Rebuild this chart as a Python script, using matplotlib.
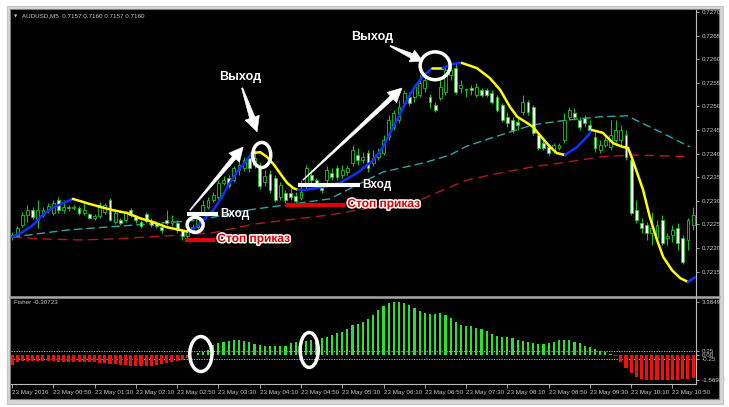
import numpy as np
import matplotlib.pyplot as plt
import matplotlib.patheffects as pe
from matplotlib.patches import Ellipse, Rectangle, Polygon
from matplotlib.lines import Line2D
from matplotlib.transforms import IdentityTransform

W, H = 729, 407

# AUDUSD M5 candles, prices in points (1 point = 0.00001)
open_pts = [72223, 72227, 72249, 72270, 72280, 72259, 72270, 72280, 72274, 72302,
            72280, 72287, 72285, 72285, 72274, 72272, 72263, 72268, 72276, 72302,
            72255, 72259, 72259, 72280, 72266, 72255, 72272, 72257, 72251, 72244,
            72259, 72253, 72253, 72236, 72225, 72234, 72244, 72276, 72287, 72302,
            72308, 72338, 72348, 72344, 72365, 72369, 72391, 72376, 72369, 72340,
            72357, 72348, 72308, 72316, 72316, 72310, 72306, 72331, 72355, 72344,
            72331, 72344, 72359, 72369, 72355, 72361, 72380, 72397, 72386, 72401,
            72380, 72393, 72401, 72435, 72456, 72471, 72507, 72520, 72520, 72524,
            72539, 72520, 72503, 72518, 72530, 72567, 72581, 72539, 72535, 72539,
            72524, 72535, 72535, 72528, 72520, 72503, 72478, 72471, 72467, 72488,
            72509, 72499, 72439, 72422, 72414, 72408, 72412, 72429, 72478, 72486,
            72471, 72475, 72461, 72435, 72408, 72418, 72414, 72429, 72429, 72439,
            72386, 72280, 72253, 72249, 72232, 72221, 72259, 72221, 72227, 72242,
            72221, 72217, 72249]
close_pts = [72227, 72242, 72270, 72280, 72266, 72280, 72280, 72289, 72295, 72280,
             72287, 72285, 72287, 72274, 72280, 72263, 72268, 72291, 72291, 72259,
             72274, 72253, 72274, 72270, 72259, 72246, 72257, 72249, 72246, 72238,
             72253, 72257, 72238, 72225, 72234, 72244, 72263, 72291, 72302, 72312,
             72338, 72344, 72331, 72369, 72376, 72386, 72369, 72391, 72331, 72352,
             72323, 72302, 72333, 72302, 72308, 72300, 72319, 72369, 72344, 72331,
             72323, 72365, 72350, 72350, 72365, 72369, 72408, 72386, 72393, 72369,
             72391, 72401, 72429, 72471, 72486, 72499, 72528, 72507, 72541, 72550,
             72556, 72509, 72492, 72541, 72577, 72577, 72530, 72545, 72536, 72535,
             72541, 72524, 72524, 72509, 72492, 72471, 72465, 72450, 72461, 72509,
             72488, 72444, 72412, 72412, 72401, 72418, 72418, 72471, 72492, 72478,
             72456, 72465, 72450, 72412, 72418, 72429, 72439, 72450, 72450, 72393,
             72274, 72259, 72242, 72232, 72242, 72249, 72210, 72225, 72238, 72210,
             72170, 72259, 72270]
high_pts = [72234, 72246, 72276, 72291, 72287, 72302, 72287, 72295, 72302, 72308,
            72302, 72291, 72291, 72289, 72295, 72274, 72272, 72297, 72295, 72306,
            72278, 72263, 72278, 72285, 72270, 72259, 72276, 72263, 72257, 72251,
            72280, 72270, 72259, 72240, 72240, 72251, 72272, 72302, 72308, 72319,
            72344, 72352, 72355, 72374, 72386, 72393, 72397, 72408, 72382, 72365,
            72365, 72355, 72340, 72323, 72327, 72319, 72344, 72376, 72365, 72348,
            72338, 72374, 72369, 72376, 72376, 72376, 72418, 72412, 72403, 72408,
            72408, 72412, 72439, 72482, 72492, 72514, 72535, 72530, 72545, 72567,
            72573, 72526, 72509, 72556, 72583, 72594, 72594, 72556, 72539, 72545,
            72550, 72539, 72539, 72535, 72524, 72507, 72488, 72478, 72475, 72524,
            72514, 72503, 72444, 72429, 72418, 72422, 72422, 72486, 72499, 72497,
            72478, 72482, 72471, 72450, 72429, 72435, 72471, 72471, 72461, 72450,
            72393, 72302, 72263, 72255, 72276, 72259, 72270, 72232, 72249, 72253,
            72227, 72263, 72287]
low_pts = [72217, 72223, 72244, 72255, 72261, 72242, 72266, 72274, 72270, 72274,
           72274, 72278, 72280, 72270, 72270, 72261, 72259, 72263, 72272, 72257,
           72251, 72249, 72255, 72266, 72253, 72242, 72253, 72244, 72242, 72232,
           72249, 72246, 72232, 72217, 72221, 72230, 72240, 72272, 72283, 72297,
           72304, 72333, 72327, 72340, 72355, 72363, 72361, 72369, 72325, 72331,
           72316, 72297, 72302, 72295, 72302, 72295, 72302, 72323, 72338, 72325,
           72316, 72333, 72344, 72344, 72348, 72355, 72374, 72376, 72380, 72361,
           72374, 72386, 72397, 72429, 72450, 72465, 72499, 72501, 72509, 72520,
           72530, 72497, 72488, 72514, 72524, 72556, 72526, 72528, 72520, 72524,
           72520, 72520, 72520, 72505, 72488, 72467, 72456, 72444, 72450, 72482,
           72482, 72439, 72408, 72408, 72397, 72401, 72408, 72422, 72471, 72471,
           72450, 72456, 72444, 72403, 72401, 72414, 72408, 72425, 72418, 72386,
           72270, 72253, 72232, 72217, 72206, 72217, 72206, 72206, 72213, 72196,
           72166, 72196, 72238]

# trend line (yellow / blue), bar index -> points, direction per segment
hma_bar = [0, 2.1, 4.1, 6.0, 7.9, 9.9, 11.8, 14.5, 17.1, 19.6, 22.3, 24.8, 27.3,
           30.0, 34.3, 35.9, 37.4, 39.0, 40.7, 42.2, 43.6, 44.8, 46.5, 48.1, 49.4,
           50.8, 51.9, 53.3, 54.5, 55.4, 56.8, 60.3, 63.6, 66.9, 70.0, 71.9, 73.3,
           74.6, 75.8, 77.1, 78.3, 79.5, 81.4, 83.5, 85.3, 87.2, 90.1, 92.6, 94.6,
           96.5, 97.9, 99.8, 101.0, 102.3, 104.3, 105.6, 107.2, 109.5, 111.4, 112.4,
           114.5, 116.5, 118.4, 119.4, 120.3, 122.3, 123.6, 125.0, 126.2, 127.9,
           129.5, 131.0, 132.4]
hma_pts = [72223, 72234, 72249, 72270, 72285, 72295, 72304, 72295, 72287, 72280,
           72274, 72263, 72255, 72244, 72234, 72246, 72263, 72280, 72308, 72338,
           72361, 72376, 72401, 72403, 72393, 72376, 72359, 72338, 72327, 72323,
           72323, 72329, 72338, 72359, 72386, 72414, 72444, 72471, 72497, 72524,
           72545, 72562, 72581, 72581, 72590, 72592, 72581, 72560, 72535, 72499,
           72478, 72465, 72456, 72439, 72414, 72401, 72397, 72414, 72435, 72450,
           72444, 72422, 72414, 72412, 72386, 72323, 72266, 72217, 72181, 72153,
           72136, 72128, 72138]
hma_dir = ("UUUUUU" "DDDDDDDD" "UUUUUUUU" "DDDDDDD" "UUUUUUUUUUUUU" "D" "UU"
           "DDDDDDDDDDD" "UUU" "DDDDDDDDDDDD" "U")

# moving averages
ma_fast_bar = [0, 10.7, 26.7, 36.4, 45.5, 61.6, 71.9, 79.7, 84.9, 88.2, 94.6,
               101.0, 107.6, 114.0, 119.2, 125.6, 131.4]
ma_fast_pts = [72223, 72238, 72251, 72259, 72280, 72304, 72361, 72380, 72397,
               72416, 72439, 72461, 72471, 72478, 72480, 72446, 72414]
ma_slow_bar = [0, 6.4, 12.8, 19.4, 25.8, 32.2, 38.8, 47.1, 61.6, 70.7, 79.1, 84.9,
               88.2, 94.6, 101.0, 107.6, 114.0, 120.3, 126.9, 131.4]
ma_slow_pts = [72223, 72219, 72217, 72219, 72223, 72227, 72232, 72251, 72270, 72287,
               72302, 72329, 72344, 72359, 72372, 72382, 72393, 72397, 72395, 72393]

# Fisher histogram
fisher = [-0.62, -0.40, -0.38, -0.38, -0.36, -0.36, -0.36, -0.38, -0.38, -0.40,
          -0.40, -0.40, -0.42, -0.42, -0.42, -0.45, -0.45, -0.50, -0.52, -0.55,
          -0.58, -0.60, -0.62, -0.65, -0.68, -0.68, -0.65, -0.68, -0.62, -0.55,
          -0.48, -0.42, -0.35, -0.28, -0.20, 0.05, 0.12, 0.23, 0.34, 0.65,
          0.76, 0.86, 0.93, 0.97, 0.97, 0.93, 0.86, 0.72, 0.66, 0.59,
          0.59, 0.59, 0.59, 0.62, 0.76, 0.86, 0.90, 0.92, 0.97, 1.00,
          1.08, 1.19, 1.30, 1.40, 1.50, 1.70, 1.93, 2.00, 2.13, 2.29,
          2.56, 2.88, 3.15, 3.30, 3.38, 3.38, 3.30, 3.20, 2.98, 2.83,
          2.70, 2.62, 2.62, 2.66, 2.56, 2.35, 2.13, 1.93, 1.89, 1.85,
          1.74, 1.64, 1.53, 1.38, 1.25, 1.17, 1.15, 1.12, 1.00, 0.90,
          0.83, 0.75, 0.69, 0.69, 0.75, 0.83, 0.94, 1.00, 0.94, 0.85,
          0.78, 0.60, 0.51, 0.38, 0.30, 0.23, 0.08, -0.05, -0.40, -0.83,
          -1.15, -1.40, -1.52, -1.57, -1.57, -1.55, -1.57, -1.57, -1.55, -1.55,
          -1.52, -1.50, -1.47]
fisher_ticks = [3.38499, 0.25, 0.0, -0.25, -1.56927]
fisher_tick_labels = ['3.38499', '0.25', '0.00', '-0.25', '-1.56927']

price_ticks = [0.7215, 0.7220, 0.7225, 0.7230, 0.7235, 0.7240, 0.7245, 0.7250,
               0.7255, 0.7260, 0.7265, 0.7270]
label_bars = [0, 8, 16, 24, 32, 40, 48, 56, 64, 72, 80, 88, 96, 104, 112, 120, 128]
time_labels = ['23 May 2016', '23 May 00:50', '23 May 01:30', '23 May 02:10',
               '23 May 02:50', '23 May 03:30', '23 May 04:10', '23 May 04:50',
               '23 May 05:30', '23 May 06:10', '23 May 06:50', '23 May 07:30',
               '23 May 08:10', '23 May 08:50', '23 May 09:30', '23 May 10:10',
               '23 May 10:50']

o = np.array(open_pts) / 1e5
c = np.array(close_pts) / 1e5
hi = np.array(high_pts) / 1e5
lo = np.array(low_pts) / 1e5
f = np.array(fisher)
x = np.arange(len(o))

GREEN = '#22c322'
GRAY = '#c8c8c8'
small = dict(fontsize=4.5, color=GRAY, family='Liberation Sans')


def box(x0, y0, x1, y1):
    return [x0 / W, 1 - y1 / H, (x1 - x0) / W, (y1 - y0) / H]


def tapered_arrow(ax, tail, tip, w0, w1, head_w=14, head_len=14):
    # white arrow whose shaft widens from tail to head, sizes in pixels
    p0 = ax.transData.transform(tail)
    p1 = ax.transData.transform(tip)
    u = (p1 - p0) / np.hypot(*(p1 - p0))
    n = np.array([-u[1], u[0]])
    base = p1 - u * head_len
    pts = [p0 + n * w0 / 2, base + n * w1 / 2, base + n * head_w / 2, p1,
           base - n * head_w / 2, base - n * w1 / 2, p0 - n * w0 / 2]
    ax.add_patch(Polygon(pts, closed=True, transform=IdentityTransform(),
                         fc='white', ec='white', lw=0.4, zorder=8))


fig = plt.figure(figsize=(W / 100, H / 100), dpi=100)
fig.patch.set_facecolor('white')
fig.add_artist(Rectangle((7 / W, 1 - 404 / H), 716 / W, 398 / H, transform=fig.transFigure,
                         fc='#d6d6d6', ec='#c4c4c4', lw=0.8, zorder=-2))
fig.add_artist(Rectangle((10 / W, 1 - 399 / H), 709 / W, 390 / H, transform=fig.transFigure,
                         fc='black', ec='#808080', lw=0.8, zorder=-1))

# ---- price panel ----
ax = fig.add_axes(box(11, 10, 696, 296))
ax.set_facecolor('black')
ax.set_xlim(-0.19, 132.56)
ax.set_ylim(0.720982, 0.727042)
for s in ['left', 'top', 'bottom']:
    ax.spines[s].set_visible(False)
ax.spines['right'].set_color('#bcbcbc')
ax.spines['right'].set_linewidth(0.8)
ax.yaxis.tick_right()
ax.set_yticks(price_ticks)
ax.set_yticklabels(['%.4f' % p for p in price_ticks], **small)
ax.tick_params(axis='y', length=2, width=0.6, color='#bcbcbc', pad=2)
ax.set_xticks([])

ax.plot(ma_fast_bar, np.array(ma_fast_pts) / 1e5, color='#2aa6a8', lw=1.0,
        dashes=(6, 3), zorder=2)
ax.plot(ma_slow_bar, np.array(ma_slow_pts) / 1e5, color='#b01a1a', lw=1.0,
        dashes=(7, 4), zorder=2)

ax.vlines(x, lo, hi, color=GREEN, lw=0.7, zorder=3)
up = c >= o
body = np.maximum(np.abs(c - o), 0.000008)
ax.bar(x, body, bottom=np.minimum(o, c), width=0.55,
       color=np.where(up, 'black', 'white'), edgecolor=GREEN, lw=0.6, zorder=4)

hb = np.array(hma_bar)
hp = np.array(hma_pts) / 1e5
start = 0
for k in range(1, len(hma_dir) + 1):
    if k == len(hma_dir) or hma_dir[k] != hma_dir[start]:
        col = '#1030ff' if hma_dir[start] == 'U' else '#ffff00'
        ax.plot(hb[start:k + 1], hp[start:k + 1], color=col, lw=1.8,
                solid_capstyle='round', zorder=5)
        start = k

# annotations
bold = dict(family='Liberation Sans', fontweight='bold')
ax.add_patch(Ellipse((35.5, 0.72249), 3.1, 0.00032, fill=False, ec='white', lw=2.5, zorder=7))
ax.add_patch(Ellipse((48.4, 0.72397), 3.5, 0.00053, fill=False, ec='white', lw=2.5, zorder=7))
ax.add_patch(Ellipse((82.0, 0.72586), 5.8, 0.00059, fill=False, ec='white', lw=2.5, zorder=7))

tapered_arrow(ax, (34.5, 0.72280), (44.8, 0.72414), 0.8, 4.5)
tapered_arrow(ax, (56.4, 0.72344), (75.6, 0.72539), 0.8, 4.5)
tapered_arrow(ax, (44.6, 0.72539), (47.5, 0.72446), 1.2, 5.5, head_w=15, head_len=15)
tapered_arrow(ax, (73.3, 0.72628), (79.6, 0.72596), 1.2, 5.0, head_w=13, head_len=12)

ax.text(44.2, 0.72562, 'Выход', color='white', fontsize=9, ha='center', va='center',
        zorder=9, **bold)
ax.text(69.8, 0.72647, 'Выход', color='white', fontsize=9, ha='center', va='center',
        zorder=9, **bold)

ax.hlines(0.72272, 33.9, 39.9, color='white', lw=3, zorder=8)
ax.text(40.4, 0.72272, 'Вход', color='white', fontsize=8.5, va='center', zorder=9, **bold)
ax.hlines(0.72333, 55.4, 67.4, color='white', lw=3, zorder=8)
ax.text(67.8, 0.72333, 'Вход', color='white', fontsize=8.5, va='center', zorder=9, **bold)

stroke = [pe.withStroke(linewidth=2.2, foreground='white')]
ax.hlines(0.72217, 33.5, 39.3, color='#e00000', lw=3, zorder=8)
ax.text(39.8, 0.72219, 'Стоп приказ', color='#e00000', fontsize=8.6, va='center',
        path_effects=stroke, zorder=9, **bold)
ax.hlines(0.72291, 52.9, 64.5, color='#e00000', lw=3, zorder=8)
ax.text(65.0, 0.72293, 'Стоп приказ', color='#e00000', fontsize=8.6, va='center',
        path_effects=stroke, zorder=9, **bold)

# ---- Fisher panel ----
ax2 = fig.add_axes(box(11, 298, 696, 384))
ax2.set_facecolor('black')
ax2.set_xlim(-0.19, 132.56)
ax2.set_ylim(-1.823, 3.639)
for s in ['left', 'top']:
    ax2.spines[s].set_visible(False)
for s in ['right', 'bottom']:
    ax2.spines[s].set_color('#bcbcbc')
    ax2.spines[s].set_linewidth(0.8)
ax2.yaxis.tick_right()
ax2.set_yticks(fisher_ticks)
ax2.set_yticklabels(fisher_tick_labels, **small)
ax2.tick_params(axis='y', length=2, width=0.6, color='#bcbcbc', pad=2)
ax2.set_xticks(label_bars)
ax2.set_xticklabels(time_labels, ha='left', **small)
ax2.tick_params(axis='x', length=3, width=0.6, color='#bcbcbc', pad=1.5)

ax2.axhline(0.25, color='#cfcfcf', lw=0.6, ls=(0, (1.5, 1.5)), zorder=1)
ax2.axhline(-0.25, color='#cfcfcf', lw=0.6, ls=(0, (1.5, 1.5)), zorder=1)
ax2.bar(x, f, width=np.where(f >= 0, 0.42, 0.6),
        color=np.where(f >= 0, '#2ee02e', '#f01010'), zorder=2)
ax2.add_patch(Ellipse((36.6, 0.08), 4.3, 2.22, fill=False, ec='white', lw=2.5, zorder=5))
ax2.add_patch(Ellipse((57.6, 0.34), 3.5, 2.22, fill=False, ec='white', lw=2.5, zorder=5))

# panel separator and captions
fig.add_artist(Line2D([10 / W, 719 / W], [1 - 297 / H] * 2, transform=fig.transFigure,
                      color='#a8a8a8', lw=1.8))
fig.text(14 / W, 1 - 16 / H, '\u25bc', fontsize=3, color=GRAY, va='center')
fig.text(22 / W, 1 - 16 / H, 'AUDUSD,M5  0.7157 0.7160 0.7157 0.7160', va='center', **small)
fig.text(14 / W, 1 - 303 / H, 'Fisher -0.30723', va='center', **small)

fig.savefig('out.png', dpi=100, facecolor=fig.get_facecolor())
